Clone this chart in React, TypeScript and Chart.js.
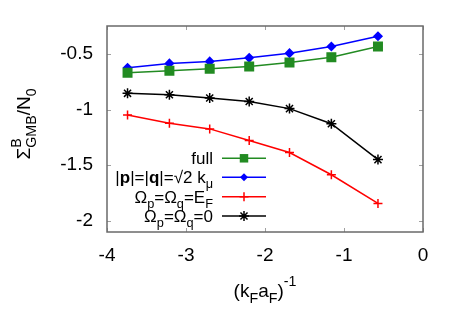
import React, { useEffect, useRef } from 'react';
import { Chart, registerables } from 'chart.js';

Chart.register(...registerables);

const xValues = [-3.74, -3.21, -2.7, -2.2, -1.69, -1.16, -0.57];
const fullValues = [-0.67, -0.652, -0.634, -0.613, -0.577, -0.53, -0.434];
const sqrt2Values = [-0.625, -0.586, -0.568, -0.536, -0.494, -0.434, -0.342];
const efValues = [-1.05, -1.123, -1.174, -1.279, -1.386, -1.586, -1.843];
const zeroValues = [-0.855, -0.867, -0.897, -0.928, -0.992, -1.128, -1.45];
const xTicks = [-4, -3, -2, -1, 0];
const yTicks = [-2, -1.5, -1, -0.5];

type Seg = { t: string; sup?: string; sub?: string; b?: boolean };

const FONT = '"Liberation Sans", Arial, sans-serif';
const fnt = (size: number, bold?: boolean) => `${bold ? 'bold ' : ''}${size}px ${FONT}`;

const legendLabels: Seg[][] = [
  [{ t: 'full' }],
  [{ t: '|' }, { t: 'p', b: true }, { t: '|=|' }, { t: 'q', b: true }, { t: '|=√2 k', sub: 'μ' }],
  [{ t: 'Ω', sub: 'p' }, { t: '=Ω', sub: 'q' }, { t: '=E', sub: 'F' }],
  [{ t: 'Ω', sub: 'p' }, { t: '=Ω', sub: 'q' }, { t: '=0' }],
];
const yTitle: Seg[] = [{ t: 'Σ', sup: 'B', sub: 'GMB' }, { t: '/N', sub: '0' }];
const xTitle: Seg[] = [{ t: '(k', sub: 'F' }, { t: 'a', sub: 'F' }, { t: ')', sup: '-1' }];

function segW(ctx: CanvasRenderingContext2D, s: Seg, size: number) {
  ctx.font = fnt(size, s.b);
  const w = ctx.measureText(s.t).width;
  ctx.font = fnt(size * 0.75);
  const a = s.sup ? ctx.measureText(s.sup).width : 0;
  const b = s.sub ? ctx.measureText(s.sub).width : 0;
  return w + Math.max(a, b);
}

function drawRich(
  ctx: CanvasRenderingContext2D,
  segs: Seg[],
  x: number,
  y: number,
  size: number,
  align: string,
  supRaise = 0.45
) {
  const total = segs.reduce((acc, s) => acc + segW(ctx, s, size), 0);
  let cx = align === 'right' ? x - total : align === 'center' ? x - total / 2 : x;
  ctx.textAlign = 'left';
  ctx.textBaseline = 'alphabetic';
  ctx.fillStyle = '#000';
  for (const s of segs) {
    ctx.font = fnt(size, s.b);
    ctx.fillText(s.t, cx, y);
    cx += ctx.measureText(s.t).width;
    ctx.font = fnt(size * 0.75);
    let m = 0;
    if (s.sup) {
      ctx.fillText(s.sup, cx, y - size * supRaise);
      m = Math.max(m, ctx.measureText(s.sup).width);
    }
    if (s.sub) {
      ctx.fillText(s.sub, cx, y + size * 0.3);
      m = Math.max(m, ctx.measureText(s.sub).width);
    }
    cx += m;
  }
}

function drawMarker(ctx: CanvasRenderingContext2D, style: string, x: number, y: number, r: number, color: string) {
  ctx.save();
  ctx.fillStyle = color;
  ctx.strokeStyle = color;
  ctx.lineWidth = 1.5;
  ctx.beginPath();
  if (style === 'rect') {
    const s = Math.SQRT1_2 * r;
    ctx.rect(x - s, y - s, 2 * s, 2 * s);
    ctx.fill();
  } else if (style === 'rectRot') {
    ctx.moveTo(x, y - r);
    ctx.lineTo(x + r, y);
    ctx.lineTo(x, y + r);
    ctx.lineTo(x - r, y);
    ctx.closePath();
    ctx.fill();
  } else if (style === 'cross') {
    ctx.moveTo(x - r, y);
    ctx.lineTo(x + r, y);
    ctx.moveTo(x, y - r);
    ctx.lineTo(x, y + r);
    ctx.stroke();
  } else {
    const d = r * Math.SQRT1_2;
    ctx.moveTo(x - r, y);
    ctx.lineTo(x + r, y);
    ctx.moveTo(x, y - r);
    ctx.lineTo(x, y + r);
    ctx.moveTo(x - d, y - d);
    ctx.lineTo(x + d, y + d);
    ctx.moveTo(x - d, y + d);
    ctx.lineTo(x + d, y - d);
    ctx.stroke();
  }
  ctx.restore();
}

const seriesStyle = [
  { color: '#228b22', style: 'rect', r: 6, values: fullValues },
  { color: '#0000ff', style: 'rectRot', r: 4, values: sqrt2Values },
  { color: '#ff0000', style: 'cross', r: 4.5, values: efValues },
  { color: '#000000', style: 'star', r: 5, values: zeroValues },
];

const decorPlugin = {
  id: 'decor',
  afterDatasetsDraw(chart: any) {
    const ctx: CanvasRenderingContext2D = chart.ctx;
    const { left, right, top, bottom } = chart.chartArea;
    const xs = chart.scales.x;
    const ys = chart.scales.y;
    ctx.save();
    ctx.strokeStyle = '#a0a0a0';
    ctx.lineWidth = 1;
    ctx.beginPath();
    for (const v of xTicks) {
      const px = Math.round(xs.getPixelForValue(v)) + 0.5;
      ctx.moveTo(px, bottom);
      ctx.lineTo(px, bottom - 4);
      ctx.moveTo(px, top);
      ctx.lineTo(px, top + 4);
    }
    for (const v of yTicks) {
      const py = Math.round(ys.getPixelForValue(v)) + 0.5;
      ctx.moveTo(left, py);
      ctx.lineTo(left + 4, py);
      ctx.moveTo(right, py);
      ctx.lineTo(right - 4, py);
    }
    ctx.stroke();
    ctx.strokeStyle = '#6a6a6a';
    ctx.lineWidth = 1.5;
    ctx.strokeRect(left, top, right - left, bottom - top);
    const rows = [158.3, 177.3, 196.7, 216];
    seriesStyle.forEach((s, i) => {
      const cy = rows[i];
      drawRich(ctx, legendLabels[i], 213, cy + 6, 17, 'right');
      ctx.strokeStyle = s.color;
      ctx.lineWidth = 1.5;
      ctx.beginPath();
      ctx.moveTo(222, cy);
      ctx.lineTo(266, cy);
      ctx.stroke();
      drawMarker(ctx, s.style, 244, cy, s.r, s.color);
    });
    drawRich(ctx, xTitle, (left + right) / 2, 297, 19, 'center', 0.6);
    ctx.save();
    ctx.translate(30, 124);
    ctx.rotate(-Math.PI / 2);
    drawRich(ctx, yTitle, 0, 0, 19, 'center', 0.5);
    ctx.restore();
    ctx.restore();
  },
};

export default function App() {
  const ref = useRef<HTMLCanvasElement | null>(null);
  useEffect(() => {
    document.body.style.margin = '0';
    const canvas = ref.current;
    if (!canvas) return;
    const chart = new Chart(canvas, {
      type: 'line',
      data: {
        datasets: seriesStyle.map((s) => ({
          data: xValues.map((x, i) => ({ x, y: s.values[i] })),
          borderColor: s.color,
          backgroundColor: s.color,
          pointBackgroundColor: s.color,
          pointBorderColor: s.color,
          pointStyle: s.style as any,
          pointRadius: s.r,
          pointBorderWidth: 1.5,
          borderWidth: 1.5,
          tension: 0,
          fill: false,
        })),
      },
      options: {
        animation: false,
        responsive: false,
        devicePixelRatio: 1,
        events: [],
        layout: { padding: { left: 0, top: 26, right: 40, bottom: 0 } },
        plugins: { legend: { display: false }, tooltip: { enabled: false } },
        scales: {
          x: {
            type: 'linear',
            min: -4,
            max: 0,
            afterBuildTicks: (s: any) => {
              s.ticks = xTicks.map((v) => ({ value: v }));
            },
            afterFit: (s: any) => {
              s.height = 92;
            },
            ticks: {
              font: { family: FONT, size: 19 },
              color: '#000',
              padding: 12,
              maxRotation: 0,
              autoSkip: false,
              callback: (v: any) => String(v),
            },
            grid: { display: false, drawTicks: false },
            border: { display: false },
          },
          y: {
            type: 'linear',
            min: -2.1,
            max: -0.25,
            afterBuildTicks: (s: any) => {
              s.ticks = yTicks.map((v) => ({ value: v }));
            },
            afterFit: (s: any) => {
              s.width = 107;
            },
            ticks: {
              font: { family: FONT, size: 19 },
              color: '#000',
              padding: 14,
              autoSkip: false,
              callback: (v: any) => String(v),
            },
            grid: { display: false, drawTicks: false },
            border: { display: false },
          },
        },
      },
      plugins: [decorPlugin],
    });
    return () => chart.destroy();
  }, []);
  return (
    <canvas
      ref={ref}
      width={463}
      height={324}
      style={{ position: 'absolute', left: 0, top: 0, width: 463, height: 324 }}
    />
  );
}
